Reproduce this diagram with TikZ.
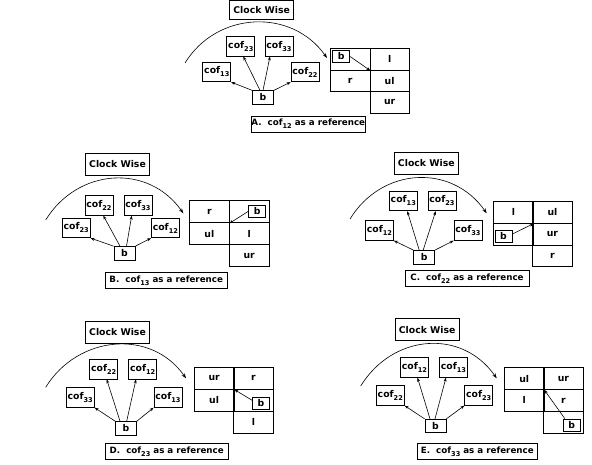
\documentclass[tikz,border=0pt]{standalone}
\usepackage{fontspec}
\setmainfont{DejaVu Sans}
\usetikzlibrary{arrows.meta}
\newcommand\cofsub[1]{cof\raisebox{-3pt}{\fontsize{6.6}{7}\selectfont #1}}
\tikzset{
  box/.style={draw, line width=0.8pt, inner sep=0pt, font=\fontsize{9.3}{11}\selectfont\bfseries},
  cof/.style={box, minimum width=28pt, minimum height=19.5pt},
  bbox/.style={box, minimum width=21pt, minimum height=13.5pt},
  ibox/.style={box, minimum width=17pt, minimum height=12pt},
  cw/.style={box, minimum width=64pt, minimum height=22pt, font=\fontsize{9.3}{11}\selectfont\bfseries},
  capbox/.style={box, minimum height=16pt, font=\fontsize{8.7}{10}\selectfont\bfseries},
  cell/.style={box, minimum width=39.5pt, minimum height=21.8pt, anchor=north west},
  arr/.style={line width=0.6pt, -{Stealth[length=4pt,width=3pt]}},
  bendarr/.style={line width=0.6pt, -{Stealth[length=5pt,width=3.5pt]}}
}
\begin{document}
\begin{tikzpicture}[x=1pt,y=-1pt]
\useasboundingbox (0,0) rectangle (592,465);
% ---------------- Panel A
\node[cw, minimum height=19pt] (A-cw) at (261.7,10) {Clock Wise};
\node[cof] (A-c13) at (216.8,72) {\cofsub{13}};
\node[cof] (A-c23) at (240.8,46.3) {\cofsub{23}};
\node[cof] (A-c33) at (279,46.3) {\cofsub{33}};
\node[cof] (A-c22) at (305,72) {\cofsub{22}};
\node[bbox] (A-b) at (263,97.5) {b};
\draw[arr] (A-b.north west) -- (A-c13.south east);
\draw[arr] ([xshift=-3pt]A-b.north) -- ([xshift=2.5pt]A-c23.south);
\draw[arr] (A-b.north) -- ([xshift=-9pt]A-c33.south);
\draw[arr] (A-b.north east) -- (A-c22.south west);
\node[cell, minimum height=21.5pt] (A-11) at (330,48.3) {};
\node[cell, minimum height=21.5pt] (A-12) at (369.5,48.3) {l};
\node[cell, minimum height=21.5pt] (A-21) at (330,69.8) {r};
\node[cell, minimum height=21.5pt] (A-22) at (369.5,69.8) {ul};
\node[cell, minimum height=21.5pt] (A-32) at (369.5,91.3) {ur};
\node[ibox] (A-ib) at (341.2,56.5) {b};
\draw[arr] (A-ib.east) -- (A-11.south east);
\coordinate (A-s) at (185,63);
\coordinate (A-e) at (327,58);
\draw[bendarr] (A-s) .. controls +(32,-52) and +(-35,-50) .. (A-e);
\node[capbox, minimum width=113pt] (A-cap) at (308.3,124) {A.\ \ \cofsub{12} as a reference};
% ---------------- Panel B
\node[cw] (B-cw) at (117.5,164) {Clock Wise};
\node[cof] (B-c22) at (99,205.5) {\cofsub{22}};
\node[cof] (B-c33) at (138,205.5) {\cofsub{33}};
\node[cof] (B-c23) at (76.2,228) {\cofsub{23}};
\node[cof] (B-c12) at (165.4,228) {\cofsub{12}};
\node[bbox] (B-b) at (124.5,253.3) {b};
\draw[arr] (B-b.north west) -- (B-c23.south east);
\draw[arr] ([xshift=-4.5pt]B-b.north) -- ([xshift=4.3pt]B-c22.south);
\draw[arr] ([xshift=2pt]B-b.north) -- ([xshift=-6.3pt]B-c33.south);
\draw[arr] (B-b.north east) -- (B-c12.south west);
\node[cell, minimum height=22pt] (B-11) at (189.2,200.5) {r};
\node[cell, minimum height=22pt] (B-12) at (229,200.5) {};
\node[cell, minimum height=22pt] (B-21) at (189.2,222.5) {ul};
\node[cell, minimum height=22pt] (B-22) at (229,222.5) {l};
\node[cell, minimum height=22pt] (B-32) at (229,244.5) {ur};
\node[ibox] (B-ib) at (257.2,211.3) {b};
\draw[arr] (B-ib.west) -- (B-11.south east);
\coordinate (B-s) at (45.7,220);
\coordinate (B-e) at (183.3,213.3);
\draw[bendarr] (B-s) .. controls +(32,-52) and +(-35,-50) .. (B-e);
\node[capbox, minimum width=122pt] (B-cap) at (166.2,280.5) {B.\ \ \cofsub{13} as a reference};
% ---------------- Panel C
\node[cw] (C-cw) at (426.3,163) {Clock Wise};
\node[cof] (C-c13) at (403.3,201) {\cofsub{13}};
\node[cof] (C-c23) at (442,201) {\cofsub{23}};
\node[cof] (C-c12) at (379.5,230.5) {\cofsub{12}};
\node[cof] (C-c33) at (468,230.5) {\cofsub{33}};
\node[bbox] (C-b) at (424.2,257.2) {b};
\draw[arr] (C-b.north west) -- (C-c12.south east);
\draw[arr] ([xshift=-5pt]C-b.north) -- ([xshift=4pt]C-c13.south);
\draw[arr] ([xshift=-1pt]C-b.north) -- ([xshift=-6.3pt]C-c23.south);
\draw[arr] (C-b.north east) -- (C-c33.south west);
\node[cell] (C-11) at (493.3,201) {l};
\node[cell] (C-12) at (532.3,201) {ul};
\node[cell] (C-21) at (493.3,222.8) {};
\node[cell] (C-22) at (532.3,222.8) {ur};
\node[cell] (C-32) at (532.3,244.6) {r};
\node[ibox] (C-ib) at (503.5,236) {b};
\draw[arr] ([yshift=2pt]C-ib.east) -- (C-11.south east);
\coordinate (C-s) at (350,219);
\coordinate (C-e) at (486.7,213.3);
\draw[bendarr] (C-s) .. controls +(32,-52) and +(-35,-50) .. (C-e);
\node[capbox, minimum width=124pt] (C-cap) at (467,278.8) {C.\ \ \cofsub{22} as a reference};
% ---------------- Panel D
\node[cw] (D-cw) at (117.5,332.5) {Clock Wise};
\node[cof] (D-c22) at (103.7,369.2) {\cofsub{22}};
\node[cof] (D-c12) at (142.7,369.2) {\cofsub{12}};
\node[cof] (D-c33) at (80.2,397.5) {\cofsub{33}};
\node[cof] (D-c13) at (168,397.5) {\cofsub{13}};
\node[bbox] (D-b) at (126,428.3) {b};
\draw[arr] (D-b.north west) -- (D-c33.south east);
\draw[arr] ([xshift=-6pt]D-b.north) -- ([xshift=3pt]D-c22.south);
\draw[arr] ([xshift=0.7pt]D-b.north) -- ([xshift=-6.7pt]D-c12.south);
\draw[arr] (D-b.north east) -- (D-c13.south west);
\node[cell, minimum height=22pt] (D-11) at (194,366.7) {ur};
\node[cell, minimum height=22pt] (D-12) at (233.3,366.7) {r};
\node[cell, minimum height=22pt] (D-21) at (194,388.7) {ul};
\node[cell, minimum height=22pt] (D-22) at (233.3,388.7) {};
\node[cell, minimum height=22pt] (D-32) at (233.3,410.7) {l};
\node[ibox] (D-ib) at (261,403.3) {b};
\draw[arr] ([yshift=3pt]D-ib.west) -- (D-11.south east);
\coordinate (D-s) at (45.7,387.3);
\coordinate (D-e) at (186,378.3);
\draw[bendarr] (D-s) .. controls +(32,-52) and +(-35,-50) .. (D-e);
\node[capbox, minimum width=123.3pt] (D-cap) at (166.7,451.7) {D.\ \ \cofsub{23} as a reference};
% ---------------- Panel E
\node[cw] (E-cw) at (427.2,329.7) {Clock Wise};
\node[cof] (E-c12) at (414.5,367.5) {\cofsub{12}};
\node[cof] (E-c13) at (453.5,367.5) {\cofsub{13}};
\node[cof] (E-c22) at (390.3,395.5) {\cofsub{22}};
\node[cof] (E-c23) at (478.7,395.5) {\cofsub{23}};
\node[bbox] (E-b) at (435.5,426) {b};
\draw[arr] (E-b.north west) -- (E-c22.south east);
\draw[arr] ([xshift=-5.5pt]E-b.north) -- ([xshift=3pt]E-c12.south);
\draw[arr] ([xshift=-0.5pt]E-b.north) -- ([xshift=-7.5pt]E-c13.south);
\draw[arr] (E-b.north east) -- (E-c23.south west);
\node[cell] (E-11) at (504,367.3) {ul};
\node[cell] (E-12) at (543.3,367.3) {ur};
\node[cell] (E-21) at (504,389.1) {l};
\node[cell] (E-22) at (543.3,389.1) {r};
\node[cell] (E-32) at (543.3,410.9) {};
\node[ibox] (E-ib) at (571.7,425) {b};
\draw[arr] ([xshift=2pt]E-ib.north west) -- (E-11.south east);
\coordinate (E-s) at (360.7,386);
\coordinate (E-e) at (496.7,378.3);
\draw[bendarr] (E-s) .. controls +(32,-52) and +(-35,-50) .. (E-e);
\node[capbox, minimum width=120pt] (E-cap) at (477.3,451.3) {E.\ \ \cofsub{33} as a reference};
\end{tikzpicture}
\end{document}
